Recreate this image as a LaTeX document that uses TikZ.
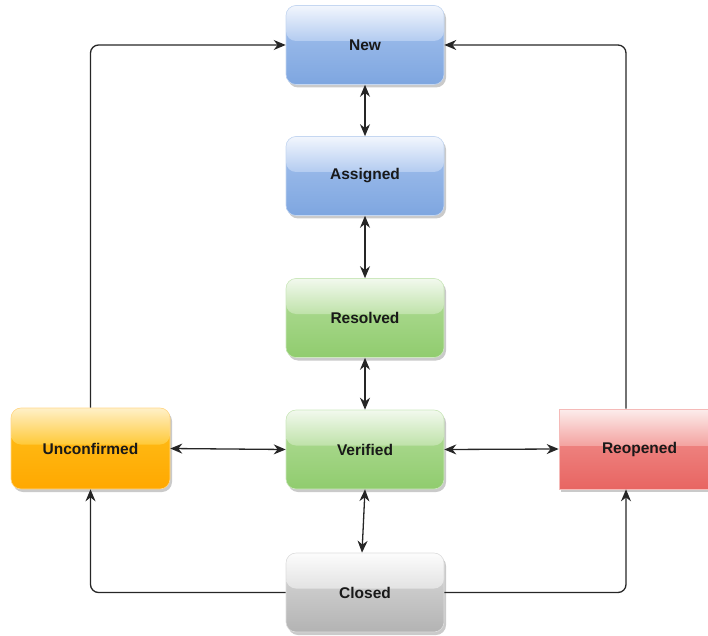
\documentclass[tikz,border=0pt]{standalone}
\usepackage{fontspec}
\setmainfont{Liberation Sans}
\usetikzlibrary{arrows.meta,shadows,calc}

% state colours: light top, mid band, base
\definecolor{blueA}{HTML}{F2F6FD}\definecolor{blueB}{HTML}{A8C4EE}\definecolor{blueC}{HTML}{7EA6E0}
\definecolor{greenA}{HTML}{F2F9EE}\definecolor{greenB}{HTML}{B6DE9D}\definecolor{greenC}{HTML}{90CC6E}
\definecolor{orangeA}{HTML}{FFF0C8}\definecolor{orangeB}{HTML}{FFC21E}\definecolor{orangeC}{HTML}{FFA800}
\definecolor{redA}{HTML}{FCEDEC}\definecolor{redB}{HTML}{F29794}\definecolor{redC}{HTML}{E86562}
\definecolor{grayA}{HTML}{FCFCFC}\definecolor{grayB}{HTML}{DEDEDE}\definecolor{grayC}{HTML}{B3B3B3}

\tikzset{
  state/.style n args={3}{
    rectangle, rounded corners=10pt, minimum width=158pt, minimum height=79pt,
    draw=#3!45!white, line width=0.6pt, text=black!90,
    font=\fontsize{15.5}{18}\selectfont\bfseries,
    drop shadow={shadow xshift=2pt, shadow yshift=-3pt, fill=black!35, opacity=0.6},
    path picture={
      \shade[top color=#2, bottom color=#3]
        (path picture bounding box.south west) rectangle (path picture bounding box.north east);
      \shade[top color=#1, bottom color=#1!15!#2]
        (path picture bounding box.north west) rectangle ($(path picture bounding box.east)+(0,4pt)$);
    }
  },
  arr/.style={line width=1.3pt, draw=black!85, -{Stealth[length=12pt,width=10pt]}},
  barr/.style={line width=1.3pt, draw=black!85, {Stealth[length=12pt,width=10pt]}-{Stealth[length=12pt,width=10pt]}},
  elbow/.style={arr, rounded corners=8pt}
}

\begin{document}
\begin{tikzpicture}[x=1pt,y=1pt]
\useasboundingbox (0,0) rectangle (708,635);

\node[state={blueA}{blueB}{blueC}]   (new) at (365,590) {New};
\node[state={blueA}{blueB}{blueC}]   (asg) at (365,459) {Assigned};
\node[state={greenA}{greenB}{greenC}] (res) at (365,317) {Resolved};
\node[state={greenA}{greenB}{greenC}] (ver) at (365,185.5) {Verified};
\node[state={orangeA}{orangeB}{orangeC}, minimum width=159pt, minimum height=81pt] (unc) at (90.5,186.5) {Unconfirmed};
\node[state={redA}{redB}{redC}, rounded corners=0pt, minimum width=161pt, minimum height=80pt] (reo) at (639.5,186) {Reopened};
\node[state={grayA}{grayB}{grayC}]   (clo) at (365,42.5) {Closed};

\coordinate (rx) at (626,0);

% vertical chain
\draw[barr] (new.south) -- (asg.north);
\draw[barr] (asg.south) -- (res.north);
\draw[barr] (res.south) -- (ver.north);
\draw[barr] (ver.south) -- ([xshift=-3pt]clo.north);

% horizontal links from Verified
\draw[barr] (ver.west) -- (unc.east);
\draw[barr] (ver.east) -- (reo.west);

% loops back to New
\draw[elbow] (unc.north) |- (new.west);
\draw[elbow] (reo.north -| rx) |- (new.east);

% Closed out to the side states
\draw[elbow] (clo.west) -| (unc.south);
\draw[elbow] (clo.east) -| (reo.south -| rx);
\end{tikzpicture}
\end{document}
